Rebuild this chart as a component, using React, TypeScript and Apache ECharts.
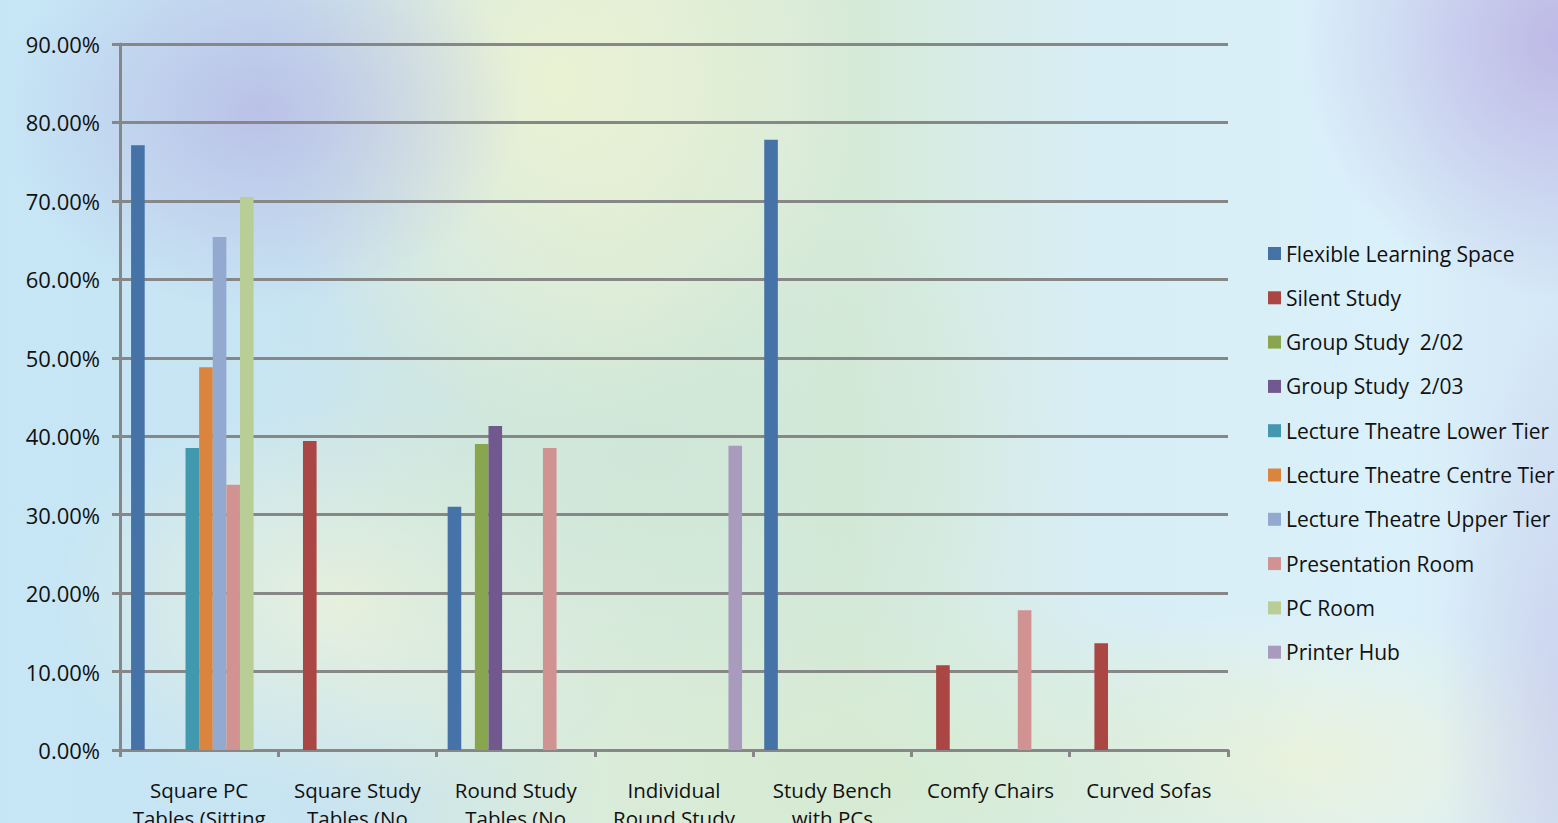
import React, { useEffect, useRef } from "react";
import * as echarts from "echarts";

const categories = [
  "Square PC\nTables (Sitting",
  "Square Study\nTables (No",
  "Round Study\nTables (No",
  "Individual\nRound Study",
  "Study Bench\nwith PCs",
  "Comfy Chairs",
  "Curved Sofas",
];

const seriesNames = [
  "Flexible Learning Space",
  "Silent Study",
  "Group Study  2/02",
  "Group Study  2/03",
  "Lecture Theatre Lower Tier",
  "Lecture Theatre Centre Tier",
  "Lecture Theatre Upper Tier",
  "Presentation Room",
  "PC Room",
  "Printer Hub",
];

const flexible = [77.1, null, 31.0, null, 77.8, null, null];
const silent = [null, 39.4, null, null, null, 10.8, 13.6];
const group202 = [null, null, 39.0, null, null, null, null];
const group203 = [null, null, 41.3, null, null, null, null];
const lectureLower = [38.5, null, null, null, null, null, null];
const lectureCentre = [48.8, null, null, null, null, null, null];
const lectureUpper = [65.4, null, null, null, null, null, null];
const presentation = [33.8, null, 38.5, null, null, 17.8, null];
const pcRoom = [70.5, null, null, null, null, null, null];
const printerHub = [null, null, null, 38.8, null, null, null];

const seriesValues = [
  flexible,
  silent,
  group202,
  group203,
  lectureLower,
  lectureCentre,
  lectureUpper,
  presentation,
  pcRoom,
  printerHub,
];

const colors = [
  "#4572A7",
  "#AA4643",
  "#89A54E",
  "#71588F",
  "#4198AF",
  "#DB843D",
  "#93A9CF",
  "#D19392",
  "#B9CD96",
  "#A99BBD",
];

const yTicks = { min: 0, max: 90, interval: 10 };

const FONT = "'Open Sans', 'Noto Sans', sans-serif";

export default function App() {
  const ref = useRef<HTMLDivElement>(null);

  useEffect(() => {
    if (!ref.current) return;
    const chart = echarts.init(ref.current, null, { renderer: "svg" });
    chart.setOption({
      animation: false,
      backgroundColor: "transparent",
      color: colors,
      grid: {
        left: 120,
        right: 330,
        top: 44,
        bottom: 73,
        containLabel: false,
        outerBoundsMode: "none",
      },
      legend: {
        orient: "vertical",
        left: 1268,
        top: 243,
        padding: 0,
        itemWidth: 13,
        itemHeight: 13,
        itemGap: 23.3,
        icon: "rect",
        textStyle: { fontFamily: FONT, fontSize: 21, color: "#111" },
        data: seriesNames,
      },
      xAxis: {
        type: "category",
        data: categories,
        axisLine: { lineStyle: { color: "#878787", width: 3 } },
        axisTick: { show: true, length: 7, lineStyle: { color: "#878787", width: 3 } },
        axisLabel: {
          interval: 0,
          margin: 26,
          fontFamily: FONT,
          fontSize: 20.5,
          lineHeight: 28,
          color: "#111",
        },
        splitLine: { show: false },
      },
      yAxis: {
        type: "value",
        min: yTicks.min,
        max: yTicks.max,
        interval: yTicks.interval,
        axisLine: { show: true, lineStyle: { color: "#878787", width: 3 } },
        axisTick: { show: true, length: 8, lineStyle: { color: "#878787", width: 3 } },
        axisLabel: {
          margin: 20,
          fontFamily: FONT,
          fontSize: 22,
          color: "#111",
          formatter: (v: number) => v.toFixed(2) + "%",
        },
        splitLine: { show: true, lineStyle: { color: "#878787", width: 3 } },
      },
      series: seriesNames.map((name, i) => ({
        name,
        type: "bar",
        data: seriesValues[i],
        barGap: "0%",
        barCategoryGap: "14%",
        itemStyle: { color: colors[i] },
      })),
    });
    return () => chart.dispose();
  }, []);

  const bg = [
    "radial-gradient(ellipse 260px 200px at 260px 110px, rgba(185,190,230,0.9), rgba(185,190,230,0) 100%)",
    "radial-gradient(ellipse 260px 260px at 1560px 40px, rgba(190,185,230,1), rgba(190,185,230,0) 100%)",
    "radial-gradient(ellipse 120px 400px at 1560px 700px, rgba(200,200,235,0.6), rgba(200,200,235,0) 100%)",
    "radial-gradient(ellipse 300px 350px at 560px 80px, rgba(235,242,210,0.95), rgba(235,242,210,0) 100%)",
    "radial-gradient(ellipse 400px 300px at 650px 450px, rgba(205,230,215,0.9), rgba(205,230,215,0) 100%)",
    "radial-gradient(ellipse 300px 200px at 350px 600px, rgba(235,242,218,0.9), rgba(235,242,218,0) 100%)",
    "radial-gradient(ellipse 500px 200px at 900px 780px, rgba(215,235,210,0.9), rgba(215,235,210,0) 100%)",
    "radial-gradient(ellipse 350px 150px at 1300px 760px, rgba(238,244,220,0.9), rgba(238,244,220,0) 100%)",
    "linear-gradient(90deg, #c6e6f6 0%, #c8e4f2 20%, #dcecdc 40%, #d6ead8 55%, #d8eef6 70%, #daf0fa 90%, #d4e8f6 100%)",
  ].join(", ");

  return (
    <div
      style={{
        position: "fixed",
        left: 0,
        top: 0,
        width: 1558,
        height: 823,
        background: bg,
        overflow: "hidden",
      }}
    >
      <div ref={ref} style={{ width: 1558, height: 823 }} />
    </div>
  );
}
